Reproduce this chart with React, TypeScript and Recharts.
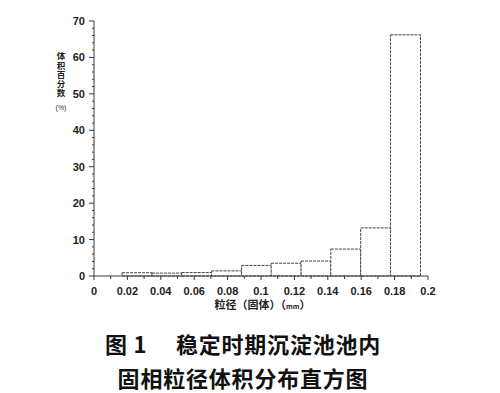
import React from 'react';
import { ComposedChart, Bar, XAxis, YAxis } from 'recharts';

// bin centres (mm) and volume fraction (%)
const binCenters = [0.0257, 0.0436, 0.0614, 0.0793, 0.0972, 0.115, 0.1329, 0.1507, 0.1686, 0.1864];
const volumePct = [0.9, 0.8, 0.95, 1.4, 2.9, 3.5, 4.1, 7.4, 13.2, 66.2];

const xTicks = [
  0, 0.01, 0.02, 0.03, 0.04, 0.05, 0.06, 0.07, 0.08, 0.09, 0.1,
  0.11, 0.12, 0.13, 0.14, 0.15, 0.16, 0.17, 0.18, 0.19, 0.2,
];
const xLabels = ['0', '0.02', '0.04', '0.06', '0.08', '0.1', '0.12', '0.14', '0.16', '0.18', '0.2'];
const yMajor = [0, 10, 20, 30, 40, 50, 60, 70];
const yTicks = Array.from({ length: 36 }, (_, i) => i * 2);

const data = binCenters.map((x, i) => ({ x, pct: volumePct[i] }));

const AXIS = '#3a3a3a';
const tickFont = { fontFamily: 'Arial, "Liberation Sans", sans-serif', fontSize: 11, fontWeight: 700 };

const XTick = (props: any) => {
  const { x, y, payload } = props;
  const v = payload.value;
  const label = xLabels.find(l => Math.abs(parseFloat(l) - v) < 1e-6);
  return (
    <g>
      <line x1={x} x2={x} y1={y} y2={y + (label ? 4 : 3)} stroke={AXIS} strokeWidth={1} />
      {label && (
        <text x={x} y={y + 19} textAnchor="middle" fill="#222" style={tickFont}>{label}</text>
      )}
    </g>
  );
};

const YTick = (props: any) => {
  const { x, y, payload } = props;
  const major = yMajor.includes(payload.value);
  return (
    <g>
      <line x1={x - (major ? 5 : 2)} x2={x} y1={y} y2={y} stroke={AXIS} strokeWidth={1} />
      {major && (
        <text x={x - 9} y={y + 4} textAnchor="end" fill="#222" style={tickFont}>{payload.value}</text>
      )}
    </g>
  );
};

export default function App() {
  return (
    <div style={{ position: 'absolute', left: 0, top: 0, width: 500, height: 393, background: '#fff' }}>
      <ComposedChart
        width={500}
        height={320}
        data={data}
        margin={{ top: 21, right: 72, bottom: 14, left: 54 }}
        barCategoryGap={0}
        barGap={0}
      >
        <XAxis
          dataKey="x"
          type="number"
          domain={[0, 0.2]}
          ticks={xTicks}
          interval={0}
          height={30}
          tickSize={0}
          tickMargin={0}
          tick={<XTick />}
          stroke={AXIS}
          allowDataOverflow
        />
        <YAxis
          type="number"
          domain={[0, 70]}
          ticks={yTicks}
          interval={0}
          width={40}
          tickSize={0}
          tickMargin={0}
          tick={<YTick />}
          stroke={AXIS}
        />
        <Bar
          dataKey="pct"
          fill="#fff"
          stroke="#444"
          strokeWidth={1}
          strokeDasharray="3 1"
          isAnimationActive={false}
        />
      </ComposedChart>

      <div
        style={{
          position: 'absolute', left: 55, top: 52, width: 12,
          writingMode: 'vertical-rl', textOrientation: 'upright',
          fontFamily: '"Noto Sans CJK SC", sans-serif', fontWeight: 700,
          fontSize: 8.5, letterSpacing: 0.6, lineHeight: '12px', color: '#222',
        }}
      >
        体积百分数
      </div>
      <div
        style={{
          position: 'absolute', left: 52, top: 104, width: 18, textAlign: 'center',
          fontFamily: 'Arial, sans-serif', fontSize: 7, color: '#333',
        }}
      >
        (%)
      </div>

      <div
        style={{
          position: 'absolute', left: 180, top: 298, width: 165, textAlign: 'center',
          fontFamily: '"Noto Sans CJK SC", sans-serif', fontWeight: 700, fontSize: 11, color: '#222',
          lineHeight: '12px',
        }}
      >
        粒径（固体）（<span style={{ fontSize: 7 }}>mm</span>）
      </div>

      <div
        style={{
          position: 'absolute', left: 0, top: 326, width: 486, textAlign: 'center',
          fontFamily: '"Noto Sans CJK SC", sans-serif', fontWeight: 700, fontSize: 22,
          letterSpacing: 0.8, lineHeight: '34px', color: '#111',
        }}
      >
        <div>图 1{'\u3000'} 稳定时期沉淀池池内</div>
        <div>固相粒径体积分布直方图</div>
      </div>
    </div>
  );
}
